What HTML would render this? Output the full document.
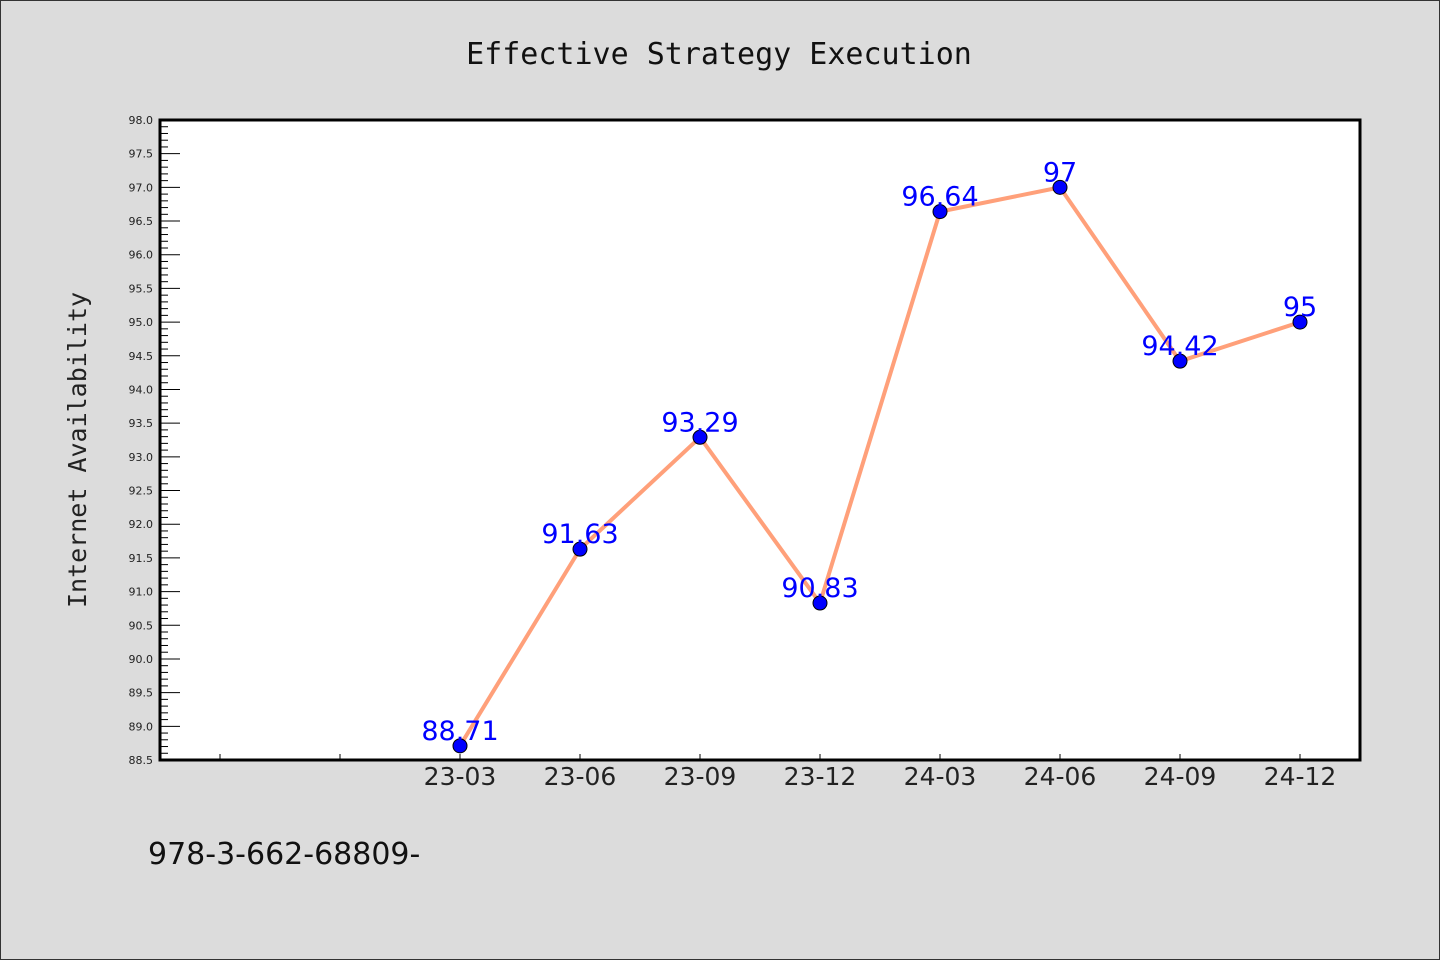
<!DOCTYPE html>
<html><head><meta charset="utf-8"><style>
html,body{margin:0;padding:0;}
body{width:1440px;height:960px;background:#dcdcdc;overflow:hidden;}
svg{display:block;}
</style></head><body>
<svg id="chart" width="1440" height="960" xmlns="http://www.w3.org/2000/svg">
<rect x="0.5" y="0.5" width="1439" height="959" fill="#dcdcdc" stroke="#333" stroke-width="1"/>
<text x="719" y="64" text-anchor="middle" font-family="DejaVu Sans Mono, Liberation Mono, monospace" font-size="30" fill="#111">Effective Strategy Execution</text>
<rect x="160" y="120" width="1200" height="640" fill="#fff"/>
<g id="yticks"></g><g id="xticks"></g>
<rect x="160" y="120" width="1200" height="640" fill="none" stroke="#000" stroke-width="3"/>
<g id="series"></g>
<text transform="translate(86,450) rotate(-90)" text-anchor="middle" font-family="DejaVu Sans Mono, Liberation Mono, monospace" font-size="25" fill="#222">Internet Availability</text>
<text x="148" y="864" font-family="DejaVu Sans, Liberation Sans, sans-serif" font-size="30" fill="#111">978-3-662-68809-</text>
</svg>
<script>
const categories = ["", "", "23-03", "23-06", "23-09", "23-12", "24-03", "24-06", "24-09", "24-12"];
const values = [null, null, 88.71, 91.63, 93.29, 90.83, 96.64, 97, 94.42, 95];
const valueLabels = ["", "", "88.71", "91.63", "93.29", "90.83", "96.64", "97", "94.42", "95"];
const yTickLabels = ["88.5","89.0","89.5","90.0","90.5","91.0","91.5","92.0","92.5","93.0","93.5","94.0","94.5","95.0","95.5","96.0","96.5","97.0","97.5","98.0"];
const yMin = 88.5, yMax = 98.0;
const L=160,R=1360,T=120,B=760;
const NS="http://www.w3.org/2000/svg";
function xs(i){return L+(R-L)/categories.length*(i+0.5);}
function ys(v){return B-(v-yMin)/(yMax-yMin)*(B-T);}
function mk(tag,attrs,parent){const e=document.createElementNS(NS,tag);for(const k in attrs)e.setAttribute(k,attrs[k]);parent.appendChild(e);return e;}
const yt=document.getElementById('yticks');
for(let k=0;k<=Math.round((yMax-yMin)*10);k++){
  const v=yMin+k/10, y=ys(v), major=k%5===0;
  const t=mk('line',{x1:L,x2:L+(major?20:8),y1:y,y2:y,stroke:'#000','stroke-width':1},yt);
  
  
}
yTickLabels.forEach(s=>{
  const t=mk('text',{x:L-7,y:ys(parseFloat(s))+4,'text-anchor':'end','font-family':'DejaVu Sans, Liberation Sans, sans-serif','font-size':11,fill:'#222'},yt);
  t.textContent=s;
  
  
});
const xt=document.getElementById('xticks');
categories.forEach((c,i)=>{
  const x=xs(i);
  const t=mk('line',{x1:x,x2:x,y1:B,y2:B-6,stroke:'#000','stroke-width':1},xt);
  
  
  if(c){
    const l=mk('text',{x:x,y:B+25,'text-anchor':'middle','font-family':'DejaVu Sans, Liberation Sans, sans-serif','font-size':25,fill:'#222'},xt);
    l.textContent=c;
    
    
  }
});
const sg=document.getElementById('series');
const pts=[];values.forEach((v,i)=>{if(v!==null)pts.push([xs(i),ys(v)]);});
const line=mk('polyline',{points:pts.map(p=>p.join(',')).join(' '),fill:'none',stroke:'#ffa07a','stroke-width':4,'stroke-linejoin':'round'},sg);


values.forEach((v,i)=>{
  if(v===null)return;
  const c=mk('circle',{cx:xs(i),cy:ys(v),r:7,fill:'#0000ff',stroke:'#000','stroke-width':1},sg);
  
  
});
values.forEach((v,i)=>{
  if(v===null)return;
  const t=mk('text',{x:xs(i),y:ys(v)-6,'text-anchor':'middle','font-family':'DejaVu Sans, Liberation Sans, sans-serif','font-size':27,fill:'#0000ff'},sg);
  t.textContent=valueLabels[i];
  
  
});
</script>
</body></html>
